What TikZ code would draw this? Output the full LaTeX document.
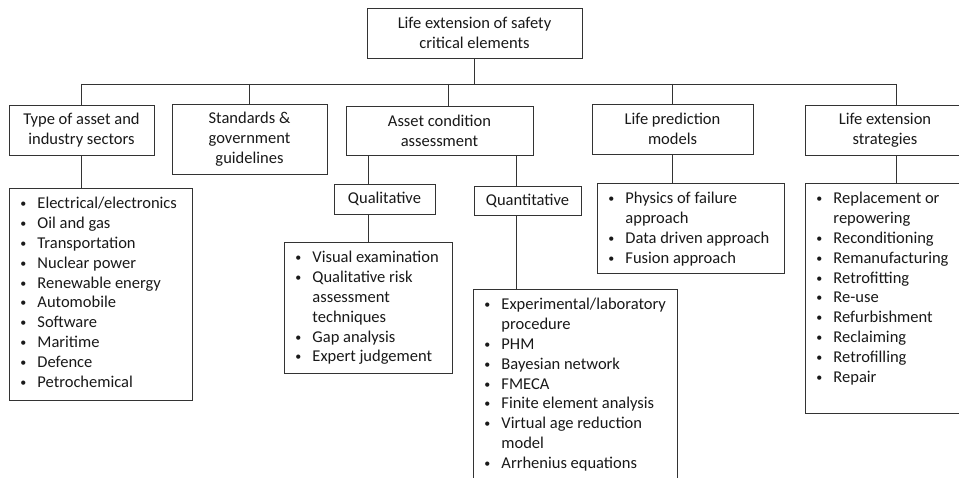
\documentclass[tikz,border=0pt]{standalone}
\usepackage{fontspec}
\setmainfont{Carlito}
\usetikzlibrary{calc}
\tikzstyle{hbox} = [rectangle, draw, align=center, inner sep=2pt]
\tikzstyle{lbox} = [rectangle, draw, inner sep=0pt, anchor=north west]
\tikzstyle{link} = [line width=0.9pt]
\newcommand{\itm}{\makebox[18pt][l]{\hspace*{1pt}\raisebox{1pt}{\fontsize{12}{12}\selectfont\textbullet}}}
\newcommand{\cnt}{\hspace*{18pt}}
\newcommand{\lst}[3]{\parbox[c][#2][t]{#1}{\leftskip=10pt\rule{0pt}{20pt}#3}}

\begin{document}
\begin{tikzpicture}[x=1pt, y=-1pt, font=\fontsize{16.5}{19.9}\selectfont, draw=black!80, text=black!90, line width=0.9pt]
            \useasboundingbox (0,0) rectangle (959,478);
            \clip (0,0) rectangle (959,478);
            \fill[white] (0,0) rectangle (959,478);
            % headers
            \node (top) [hbox, minimum width=215pt, minimum height=50pt] at (474.5,33) {Life extension of safety\\critical elements};
            \node (typ) [hbox, minimum width=145pt, minimum height=50pt] at (81.5,130) {Type of asset and\\industry sectors};
            \node (std) [hbox, minimum width=155pt, minimum height=70pt] at (249.5,139) {Standards \&\\government\\guidelines};
            \node (acnd) [hbox, minimum width=187pt, minimum height=49pt] at (439.5,130.5) {Asset condition\\assessment};
            \node (pred) [hbox, minimum width=161pt, minimum height=50pt] at (672.5,129) {Life prediction\\models};
            \node (lext) [hbox, minimum width=160pt, minimum height=50pt] at (885,130) {Life extension\\strategies};
            \node (qual) [hbox, minimum width=101pt, minimum height=30pt] at (384.5,199) {Qualitative};
            \node (quan) [hbox, minimum width=107pt, minimum height=29pt] at (527.5,201) {Quantitative};
            % lists
            \node (typlist) [lbox] at (9,188) {\lst{183pt}{212pt}{%
                \itm Electrical/electronics\\
                \itm Oil and gas\\
                \itm Transportation\\
                \itm Nuclear power\\
                \itm Renewable energy\\
                \itm Automobile\\
                \itm Software\\
                \itm Maritime\\
                \itm Defence\\
                \itm Petrochemical}};
            \node (quallist) [lbox] at (284,242) {\lst{168pt}{131pt}{%
                \itm Visual examination\\
                \itm Qualitative risk\\
                \cnt assessment\\
                \cnt techniques\\
                \itm Gap analysis\\
                \itm Expert judgement}};
            \node (quanlist) [lbox] at (473,289) {\lst{204pt}{215pt}{%
                \itm Experimental/laboratory\\
                \cnt procedure\\
                \itm PHM\\
                \itm Bayesian network\\
                \itm FMECA\\
                \itm Finite element analysis\\
                \itm Virtual age reduction\\
                \cnt model\\
                \itm Arrhenius equations}};
            \node (predlist) [lbox] at (597,183) {\lst{187pt}{90pt}{%
                \itm Physics of failure\\
                \cnt approach\\
                \itm Data driven approach\\
                \itm Fusion approach}};
            \node (lextlist) [lbox] at (805,183) {\lst{160pt}{230pt}{%
                \itm Replacement or\\
                \cnt repowering\\
                \itm Reconditioning\\
                \itm Remanufacturing\\
                \itm Retrofitting\\
                \itm Re-use\\
                \itm Refurbishment\\
                \itm Reclaiming\\
                \itm Retrofilling\\
                \itm Repair}};
            % connectors
            \coordinate (bus) at (474,84);
            \coordinate (adrop) at ($(acnd.north)+(8.5,0)$);
            \coordinate (ldrop) at ($(lext.north)+(11,0)$);
            \coordinate (qldrop) at ($(qual.north)+(-16.5,0)$);
            \coordinate (qndrop) at ($(quan.north)+(-11.5,0)$);
            \draw [link] (top.south) -- (top.south |- bus);
            \draw [link] (typ.north |- bus) -- (ldrop |- bus);
            \draw [link] (typ.north |- bus) -- (typ.north);
            \draw [link] (std.north |- bus) -- (std.north);
            \draw [link] (adrop |- bus) -- (adrop);
            \draw [link] (pred.north |- bus) -- (pred.north);
            \draw [link] (ldrop |- bus) -- (ldrop);
            \draw [link] (typ.south) -- (typ.south |- typlist.north);
            \draw [link] (qldrop |- acnd.south) -- (qldrop);
            \draw [link] (qldrop |- qual.south) -- (qldrop |- quallist.north);
            \draw [link] (qndrop |- acnd.south) -- (qndrop);
            \draw [link] (qndrop |- quan.south) -- (qndrop |- quanlist.north);
            \draw [link] (pred.south) -- (pred.south |- predlist.north);
            \draw [link] (ldrop |- lext.south) -- (ldrop |- lextlist.north);
\end{tikzpicture}
\end{document}
